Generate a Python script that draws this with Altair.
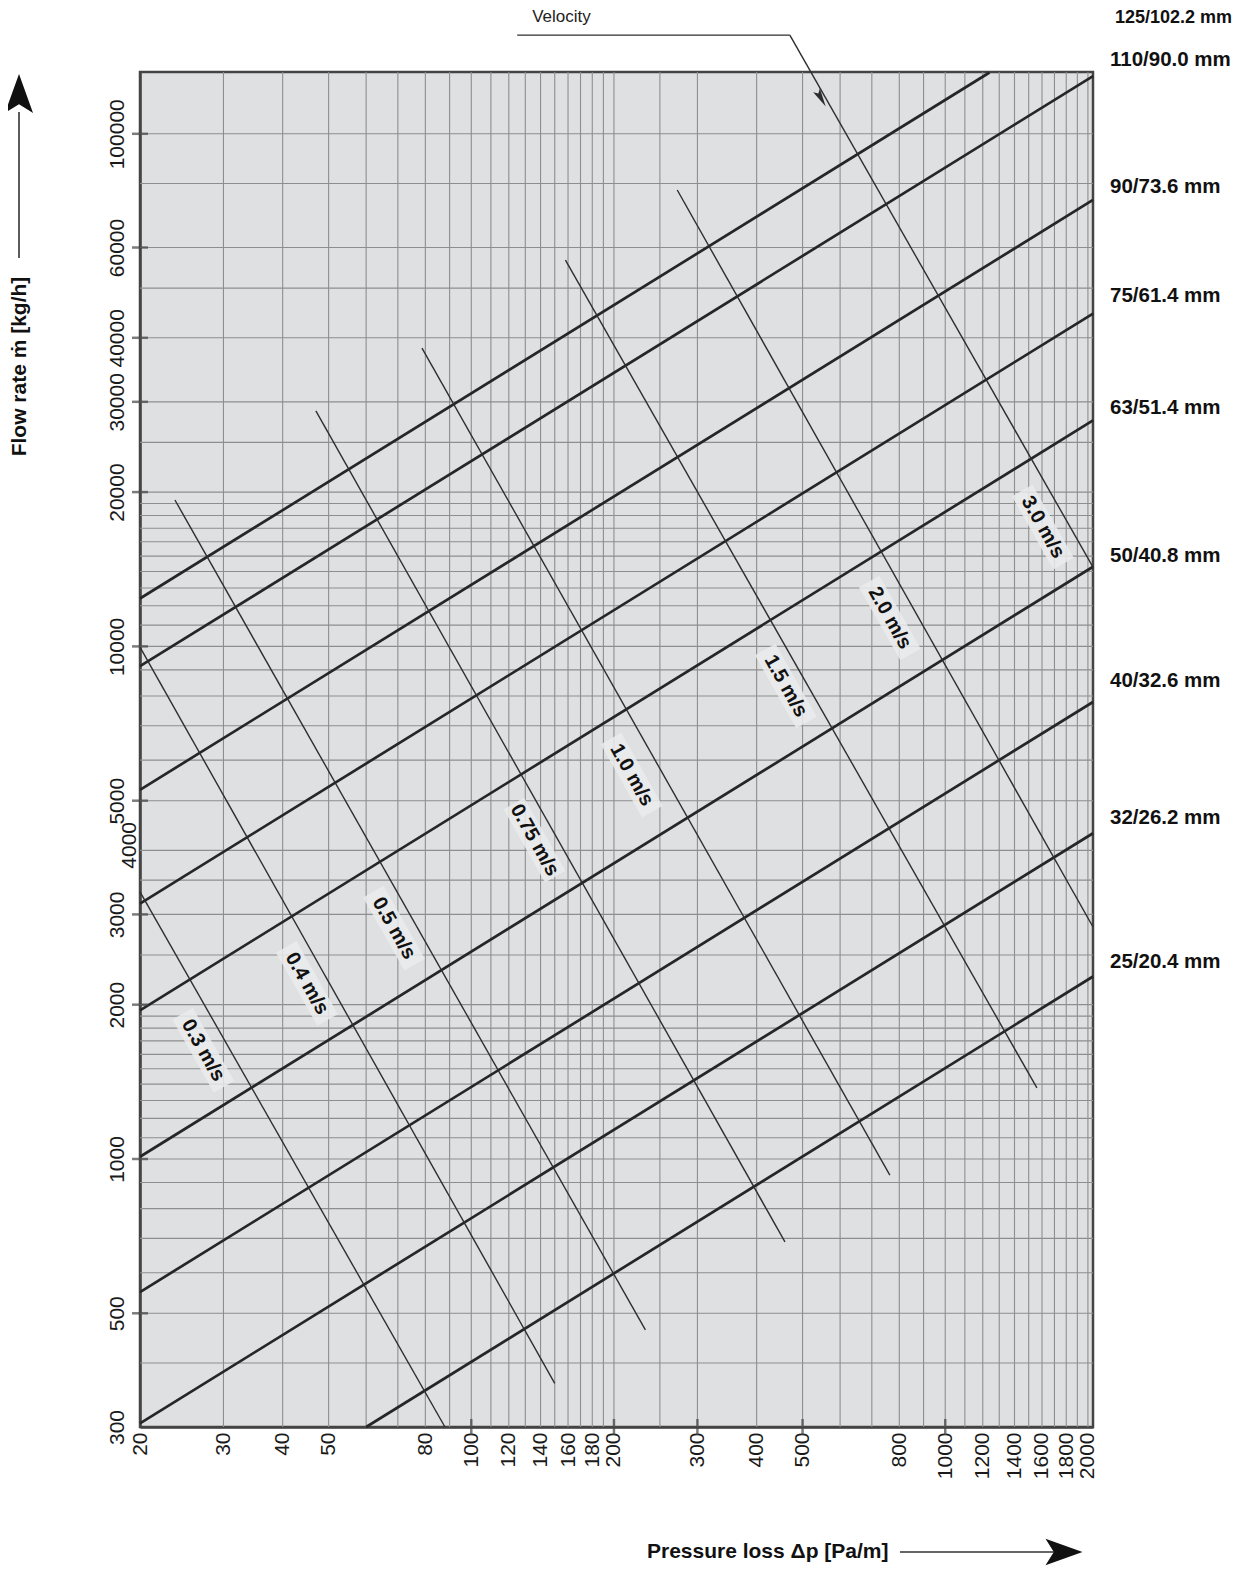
import altair as alt
import pandas as pd

FONT = "Liberation Sans"

# ---------------- axis values ----------------
x_tick_labels = [20, 30, 40, 50, 80, 100, 120, 140, 160, 180, 200, 300, 400, 500, 800,
                 1000, 1200, 1400, 1600, 1800, 2000]
y_tick_labels = [300, 500, 1000, 2000, 3000, 5000, 10000, 20000, 30000, 40000, 60000, 100000]
y_extra_labels = [4000]
x_major_ticks = [100, 200, 300, 500, 1000]
y_major_ticks = [500, 1000, 2000, 3000, 5000, 10000, 20000, 30000, 40000, 60000, 100000]

x_grid = [30, 40, 50, 60, 70, 80, 90, 100, 110, 120, 130, 140, 150, 160, 170, 180, 190, 200,
          250, 300, 400, 500, 600, 700, 800, 900, 1000, 1100, 1200, 1300, 1400, 1500, 1600,
          1700, 1800, 1900, 2000]
y_grid = [400, 500, 600, 700, 800, 900, 1000, 1100, 1200, 1300, 1400, 1500, 1600, 1700, 1800,
          1900, 2000, 2500, 3000, 3500, 4000, 5000, 6000, 7000, 8000, 9000, 10000, 11000, 12000,
          13000, 14000, 15000, 16000, 17000, 18000, 19000, 20000, 25000, 30000, 40000, 50000,
          60000, 80000, 100000]

# ---------------- pipe sizes (thick lines) ----------------
pipe_names = ["125/102.2 mm", "110/90.0 mm", "90/73.6 mm", "75/61.4 mm", "63/51.4 mm",
              "50/40.8 mm", "40/32.6 mm", "32/26.2 mm", "25/20.4 mm"]
pipe_dp_start = [20, 20, 20, 20, 20, 20, 20, 20, 60]
pipe_flow_start = [12400, 9150, 5250, 3150, 1950, 1010, 550, 305, 300]
pipe_dp_end = [1240, 2050, 2050, 2050, 2050, 2050, 2050, 2050, 2050]
pipe_flow_end = [131700, 129600, 74300, 44600, 27600, 14300, 7790, 4320, 2270]
pipe_label_flow = [168300, 139300, 78700, 48200, 29200, 15000, 8560, 4630, 2420]

# ---------------- velocities (thin lines) ----------------
vel_names = ["0.3 m/s", "0.4 m/s", "0.5 m/s", "0.75 m/s", "1.0 m/s", "1.5 m/s", "2.0 m/s", "3.0 m/s"]
vel_dp_start = [20, 20, 23.7, 47.0, 78.7, 158, 272, 470]
vel_flow_start = [3320, 9970, 19300, 28800, 38200, 56700, 77700, 155800]
vel_dp_end = [88, 150, 233, 459, 764, 1561, 2050, 2050]
vel_flow_end = [300, 365, 464, 689, 930, 1376, 2835, 14280]
vel_label_dp = [27.2, 45.0, 68.7, 136, 218, 461, 764, 1607]
vel_label_flow = [1630, 2200, 2820, 4190, 5610, 8370, 11360, 17090]

# leader "Velocity"
leader_dp = [125, 470]
leader_flow = [155800, 155800]
leader_text_dp = [155]
leader_text_flow = [169000]
leader_head_dp = [545]
leader_head_flow = [118000]

# ---------------- tables ----------------
pipe_rows = []
for n, d0, f0, d1, f1 in zip(pipe_names, pipe_dp_start, pipe_flow_start, pipe_dp_end, pipe_flow_end):
    pipe_rows.append({"pipe": n, "dp": d0, "flow": f0})
    pipe_rows.append({"pipe": n, "dp": d1, "flow": f1})
pipe_df = pd.DataFrame(pipe_rows)
pipe_lab_df = pd.DataFrame({"pipe": pipe_names, "dp": [2050] * len(pipe_names), "flow": pipe_label_flow})

vel_rows = []
for n, d0, f0, d1, f1 in zip(vel_names, vel_dp_start, vel_flow_start, vel_dp_end, vel_flow_end):
    vel_rows.append({"vel": n, "dp": d0, "flow": f0})
    vel_rows.append({"vel": n, "dp": d1, "flow": f1})
vel_df = pd.DataFrame(vel_rows)
vel_lab_df = pd.DataFrame({"vel": vel_names, "dp": vel_label_dp, "flow": vel_label_flow})

leader_df = pd.DataFrame({"dp": leader_dp, "flow": leader_flow})
leader_text_df = pd.DataFrame({"dp": leader_text_dp, "flow": leader_text_flow, "t": ["Velocity"]})
leader_head_df = pd.DataFrame({"dp": leader_head_dp, "flow": leader_head_flow})

ytick_df = pd.DataFrame({"flow": y_major_ticks, "dp": [20] * len(y_major_ticks)})
xtick_df = pd.DataFrame({"dp": x_major_ticks, "flow": [300] * len(x_major_ticks)})
extra_df = pd.DataFrame({"flow": y_extra_labels, "dp": [20] * len(y_extra_labels)})

xs = alt.Scale(type="log", domain=[20, 2050], nice=False)
ys = alt.Scale(type="log", domain=[300, 132000], nice=False)

x_axis = alt.Axis(values=x_tick_labels, format="d", labelAngle=270, labelAlign="right",
                  labelBaseline="middle", labelPadding=5, labelFontSize=21, labelFont=FONT,
                  labelColor="#1a1a1a", labelOverlap=False, labelFlush=False, grid=False,
                  ticks=False, tickSize=0, domain=True, domainColor="#444444", domainWidth=2.5,
                  title="Pressure loss Δp [Pa/m]", titleFont=FONT, titleFontSize=21,
                  titleFontWeight="bold", titleColor="#111111", titleAlign="right",
                  titleBaseline="middle", titleAngle=0, titleX=748, titleY=124)
y_axis = alt.Axis(values=y_tick_labels, format="d", labelAngle=270, labelAlign="center",
                  labelBaseline="bottom", labelPadding=13, labelFontSize=21, labelFont=FONT,
                  labelColor="#1a1a1a", labelOverlap=False, labelFlush=False, grid=False,
                  ticks=False, tickSize=0, domain=True, domainColor="#444444", domainWidth=2.5,
                  title="Flow rate ṁ [kg/h]", titleFont=FONT, titleFontSize=21,
                  titleFontWeight="bold", titleColor="#111111", titleAlign="center",
                  titleBaseline="middle", titleAngle=270, titleX=-121, titleY=294)


def X(field="dp:Q"):
    return alt.X(field, scale=xs, axis=x_axis)


def Y(field="flow:Q"):
    return alt.Y(field, scale=ys, axis=y_axis)


GRID = "#8e8e8e"

xgrid = alt.Chart(pd.DataFrame({"dp": x_grid})).mark_rule(color=GRID, strokeWidth=1.1).encode(x=X())
ygrid = alt.Chart(pd.DataFrame({"flow": y_grid})).mark_rule(color=GRID, strokeWidth=1.1).encode(y=Y())

BOX = "M-1,-0.28L1,-0.28L1,0.28L-1,0.28Z"
boxes = alt.Chart(vel_lab_df).mark_point(shape=BOX, filled=True, color="#ebebec", opacity=0.85,
                                         size=7056, angle=60.5).encode(x=X(), y=Y())

pipes = alt.Chart(pipe_df).mark_line(color="#262626", strokeWidth=2.7).encode(
    x=X(), y=Y(), detail="pipe:N")

vels = alt.Chart(vel_df).mark_line(color="#2e2e2e", strokeWidth=1.4).encode(
    x=X(), y=Y(), detail="vel:N")

leader = alt.Chart(leader_df).mark_line(color="#2e2e2e", strokeWidth=1.2).encode(x=X(), y=Y())

SMALL_ARROW = "M0,-1L0.35,0.7L0,0.35L-0.35,0.7Z"
leader_head = alt.Chart(leader_head_df).mark_point(shape=SMALL_ARROW, filled=True, color="#2e2e2e",
                                                   opacity=1, size=484, angle=150.5).encode(x=X(), y=Y())

leader_text = alt.Chart(leader_text_df).mark_text(font=FONT, fontSize=17, color="#222222",
                                                  align="center", baseline="middle").encode(
    x=X(), y=Y(), text="t:N")

vel_labels = alt.Chart(vel_lab_df).mark_text(font=FONT, fontSize=20, fontWeight="bold",
                                             color="#111111", angle=60.5, align="center",
                                             baseline="middle").encode(x=X(), y=Y(), text="vel:N")

top_pipe_labels = alt.Chart(pipe_lab_df.iloc[:1]).mark_text(
    font=FONT, fontSize=18, fontWeight="bold", color="#111111", align="left",
    baseline="middle", dx=22).encode(x=X(), y=Y(), text="pipe:N")
pipe_labels = alt.Chart(pipe_lab_df.iloc[1:]).mark_text(
    font=FONT, fontSize=20.5, fontWeight="bold", color="#111111", align="left",
    baseline="middle", dx=17).encode(x=X(), y=Y(), text="pipe:N")

yticks = alt.Chart(ytick_df).mark_tick(orient="horizontal", size=16, thickness=2.5,
                                       color="#444444").encode(x=X(), y=Y())
xticks = alt.Chart(xtick_df).mark_tick(orient="vertical", size=16, thickness=2.5,
                                       color="#444444").encode(x=X(), y=Y())

extra_lab = alt.Chart(extra_df).mark_text(
    font=FONT, fontSize=21, color="#1a1a1a", angle=270, align="center", baseline="bottom",
    dx=5, dy=0).encode(x=X(), y=Y(), text=alt.Text("flow:Q", format="d"))

BIG_ARROW = "M0,-1L0.72,1L0,0.55L-0.72,1Z"
one = pd.DataFrame({"a": [0]})
y_arrow_line = alt.Chart(one).mark_rule(color="#333333", strokeWidth=1.6).encode(
    x=alt.value(-121), y=alt.value(186), y2=alt.value(40))
y_arrow_head = alt.Chart(one).mark_point(shape=BIG_ARROW, filled=True, color="#111111", opacity=1,
                                         size=1521).encode(x=alt.value(-121), y=alt.value(21.5))
x_arrow_line = alt.Chart(one).mark_rule(color="#333333", strokeWidth=1.6).encode(
    y=alt.value(1480), x=alt.value(760), x2=alt.value(925))
x_arrow_head = alt.Chart(one).mark_point(shape=BIG_ARROW, filled=True, color="#111111", opacity=1,
                                         size=1369, angle=90).encode(x=alt.value(924), y=alt.value(1480))

chart = alt.layer(
    xgrid, ygrid, boxes, pipes, vels, leader, leader_head, leader_text, vel_labels,
    top_pipe_labels, pipe_labels, yticks, xticks, extra_lab,
    y_arrow_line, y_arrow_head, x_arrow_line, x_arrow_head
).properties(
    width=953, height=1355,
    padding={"left": 132, "top": 64, "right": 142, "bottom": 142},
    autosize=alt.AutoSizeParams(type="none"),
    background="white",
).configure_view(
    fill="#dfe0e2", stroke="#444444", strokeWidth=2.5
)

chart.save("out.html", embed_options={"renderer": "svg", "actions": False})
